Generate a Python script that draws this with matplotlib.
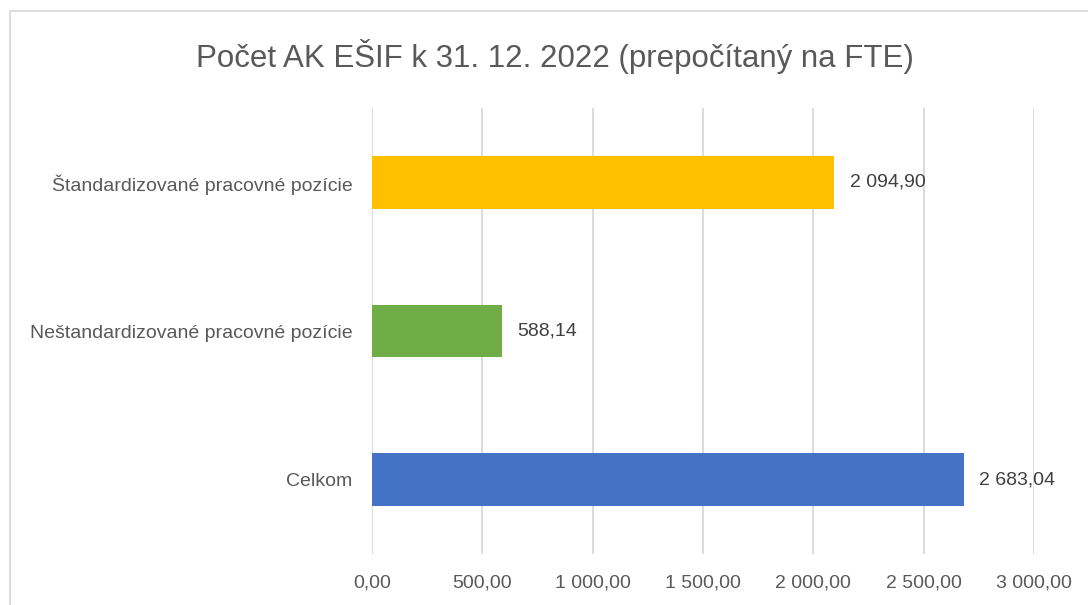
import matplotlib
matplotlib.use("Agg")
import matplotlib.pyplot as plt
from matplotlib import font_manager
from matplotlib.patches import Rectangle

# font: narrow sans if present
names = {f.name for f in font_manager.fontManager.ttflist}
font = "Liberation Sans Narrow" if "Liberation Sans Narrow" in names else "Liberation Sans"
plt.rcParams["font.family"] = [font, "DejaVu Sans"]

categories = ["Celkom", "Neštandardizované pracovné pozície", "Štandardizované pracovné pozície"]
values = [2683.04, 588.14, 2094.90]
colors = ["#4472C4", "#70AD47", "#FFC000"]
xticks = [0, 500, 1000, 1500, 2000, 2500, 3000]


def sk_fmt(v):
    s = f"{v:,.2f}"
    return s.replace(",", " ").replace(".", ",")


fig = plt.figure(figsize=(10.88, 6.05), dpi=100)
fig.patches.append(Rectangle((10 / 1088, -0.1), 1.2, 1.1 - 11 / 605,
                             transform=fig.transFigure, fill=False,
                             edgecolor="#D9D9D9", linewidth=1.3))
ax = fig.add_axes([372 / 1088, 1 - 554 / 605, (1034 - 372) / 1088, (554 - 108) / 605])

ypos = range(len(categories))
ax.barh(ypos, values, height=0.355, color=colors, zorder=3)
for y, v in zip(ypos, values):
    ax.annotate(sk_fmt(v), (v, y), xytext=(11, 0), textcoords="offset points",
                va="center", ha="left", fontsize=14, color="#404040")

ax.set_xlim(0, 3000)
ax.set_ylim(-0.5, 2.5)
ax.set_xticks(xticks)
ax.set_xticklabels([sk_fmt(t) for t in xticks], fontsize=14, color="#595959")
ax.set_yticks(list(ypos))
ax.set_yticklabels(categories, fontsize=14, color="#595959")
ax.tick_params(length=0)
ax.tick_params(axis="x", pad=15)
ax.tick_params(axis="y", pad=14)
ax.grid(axis="x", color="#D9D9D9", linewidth=1.3, zorder=0)
for s in ax.spines.values():
    s.set_visible(False)

fig.text(555 / 1088, 1 - 56 / 605, "Počet AK EŠIF k 31. 12. 2022 (prepočítaný na FTE)",
         ha="center", va="center", fontsize=22.5, color="#595959")

fig.savefig("out.png", dpi=100)
